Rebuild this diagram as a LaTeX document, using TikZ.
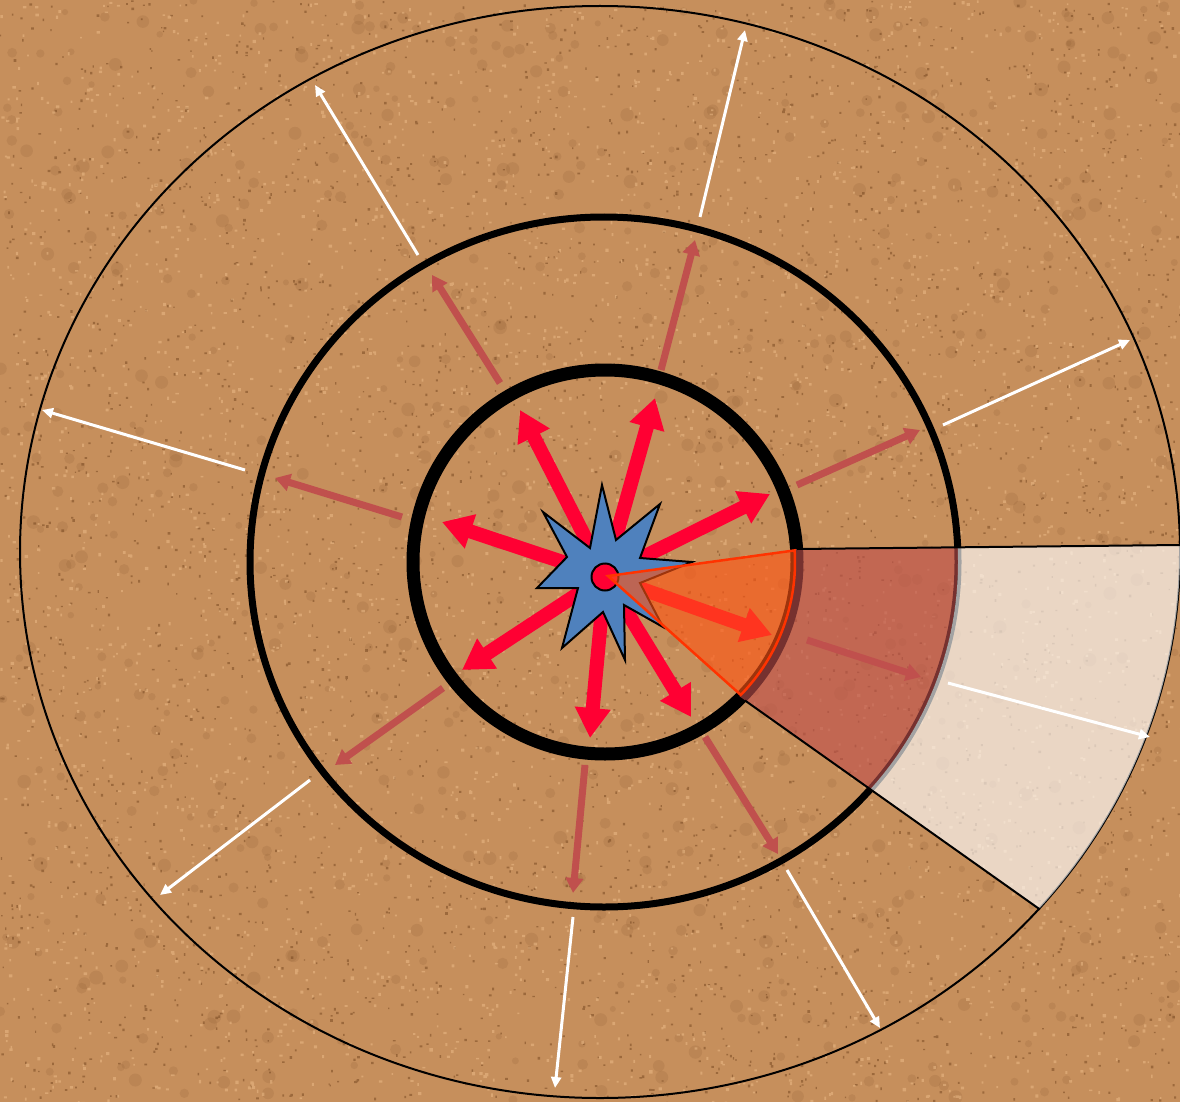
\documentclass[tikz,border=0pt]{standalone}
\usetikzlibrary{arrows.meta,calc}
\definecolor{sand}{RGB}{198,143,92}
\definecolor{sanddark}{RGB}{115,68,30}
\definecolor{sandlight}{RGB}{238,190,138}
\definecolor{arrowred}{RGB}{255,0,51}
\definecolor{pinkred}{RGB}{192,80,77}
\definecolor{starblue}{RGB}{79,129,189}
\definecolor{wedgeorange}{RGB}{255,85,20}
\definecolor{wedgeline}{RGB}{255,51,0}
\begin{document}
\begin{tikzpicture}[x=1pt,y=-1pt,
  redarrow/.style={draw=arrowred, line width=14pt, -{Triangle[width=34pt,length=30pt]}},
  pinkarrow/.style={draw=pinkred, line width=7pt, -{Triangle[width=17pt,length=15pt]}},
  whitearrow/.style={draw=white, line width=3pt, -{Triangle[width=10pt,length=11pt]}},
  innerring/.style={draw=black, line width=13pt},
  midring/.style={draw=black, line width=7pt},
  outerring/.style={draw=black, line width=2pt},
  edgeline/.style={draw=black, line width=2pt},
  starshape/.style={fill=starblue, draw=black, line width=2pt, line join=miter},
  dotstyle/.style={circle, fill=arrowred, draw=black, line width=2pt, minimum size=27pt, inner sep=0pt},
  wedgefill/.style={fill=wedgeorange, fill opacity=0.62},
  wedgeedge/.style={draw=wedgeline, line width=2.5pt, line join=miter}]
\useasboundingbox (0,0) rectangle (1180,1102);
\clip (0,0) rectangle (1180,1102);
% sand background
\fill[sand] (0,0) rectangle (1180,1102);
\pgfmathsetseed{4242}
\foreach \k in {1,...,700} {\fill[sanddark, opacity=0.12] (rnd*1180, rnd*1102) circle[radius=3+rnd*4];}
\fill[sanddark, opacity=0.5] \foreach \k in {1,...,3500} {(rnd*1180, rnd*1102) rectangle ++(1.2+rnd*1.6, 1.2+rnd*1.6)};
\fill[sandlight, opacity=0.5] \foreach \k in {1,...,3500} {(rnd*1180, rnd*1102) rectangle ++(1.5+rnd*2, 1.5+rnd*2)};

% rings
\draw[outerring] (600,552) ellipse[x radius=580, y radius=546];
\draw[midring] (604,562) ellipse[x radius=354, y radius=345];
\draw[innerring] (605,562) circle[radius=192];

% ring sectors
\begin{scope}
  \clip (571,551.4) -- (1300,543.8) -- (1345,1125) -- (571,577) -- cycle;
  \fill[pinkred, fill opacity=0.62, even odd rule] (604,562) ellipse[x radius=354, y radius=345] (605,562) circle[radius=190];
  \fill[white, fill opacity=0.64, even odd rule] (600,552) ellipse[x radius=580, y radius=546] (604,562) ellipse[x radius=354, y radius=345];
\end{scope}
\coordinate (ta) at (797,549);
\coordinate (tb) at (1180,545);
\coordinate (ba) at (745,700.5);
\coordinate (bb) at (1040,909.5);
\draw[edgeline] (ta) -- (tb);
\draw[edgeline] (ba) -- (bb);

% white arrows
\coordinate (w1a) at (418,255);  \coordinate (w1b) at (315,85);
\coordinate (w2a) at (700,217);  \coordinate (w2b) at (745,30);
\coordinate (w3a) at (245,470);  \coordinate (w3b) at (42,410);
\coordinate (w4a) at (943,425);  \coordinate (w4b) at (1130,340);
\coordinate (w5a) at (948,683);  \coordinate (w5b) at (1150,737);
\coordinate (w6a) at (310,780);  \coordinate (w6b) at (160,895);
\coordinate (w7a) at (573,917);  \coordinate (w7b) at (555,1088);
\coordinate (w8a) at (787,870);  \coordinate (w8b) at (880,1028);
\foreach \i in {1,...,8} {\draw[whitearrow] (w\i a) -- (w\i b);}

% pink arrows
\coordinate (p1a) at (500,383);  \coordinate (p1b) at (432,275);
\coordinate (p2a) at (661,370);  \coordinate (p2b) at (695,240);
\coordinate (p3a) at (402,517);  \coordinate (p3b) at (275,478);
\coordinate (p4a) at (797,485);  \coordinate (p4b) at (920,430);
\coordinate (p5a) at (807,640);  \coordinate (p5b) at (921,677);
\coordinate (p6a) at (443,688);  \coordinate (p6b) at (335,765);
\coordinate (p7a) at (585,765);  \coordinate (p7b) at (573,893);
\coordinate (p8a) at (705,737);  \coordinate (p8b) at (778,854);
\foreach \i in {1,...,8} {\draw[pinkarrow] (p\i a) -- (p\i b);}

% red arrows
\coordinate (c) at (605,576);
\coordinate (r1) at (655,398);
\coordinate (r2) at (520,410);
\coordinate (r3) at (442,522);
\coordinate (r4) at (770,494);
\coordinate (r5) at (772,635);
\coordinate (r6) at (691,717);
\coordinate (r7) at (590,738);
\coordinate (r8) at (462,670);
\foreach \i in {1,...,8} {\draw[redarrow] (c) -- (r\i);}

% star
\draw[starshape] (602,485) -- (616,540) -- (660,504) -- (640,558) -- (692,562) -- (640,583)
  -- (663,627) -- (624,605) -- (625,660) -- (603,612) -- (562,648) -- (578,588)
  -- (537,588) -- (567,557) -- (543,512) -- (590,548) -- cycle;
\node[dotstyle] (dot) at (605,577) {};

% orange wedge
\coordinate (wa) at (608,576);
\coordinate (wc) at (605,562);
\fill[wedgefill] (wa) -- ($(wc)+(-3.5:190)$) arc[start angle=-3.5, end angle=44.4, radius=190] -- cycle;
\draw[wedgeedge] (wa) -- ($(wc)+(-3.5:190)$) arc[start angle=-3.5, end angle=44.4, radius=190] -- cycle;
\end{tikzpicture}
\end{document}
